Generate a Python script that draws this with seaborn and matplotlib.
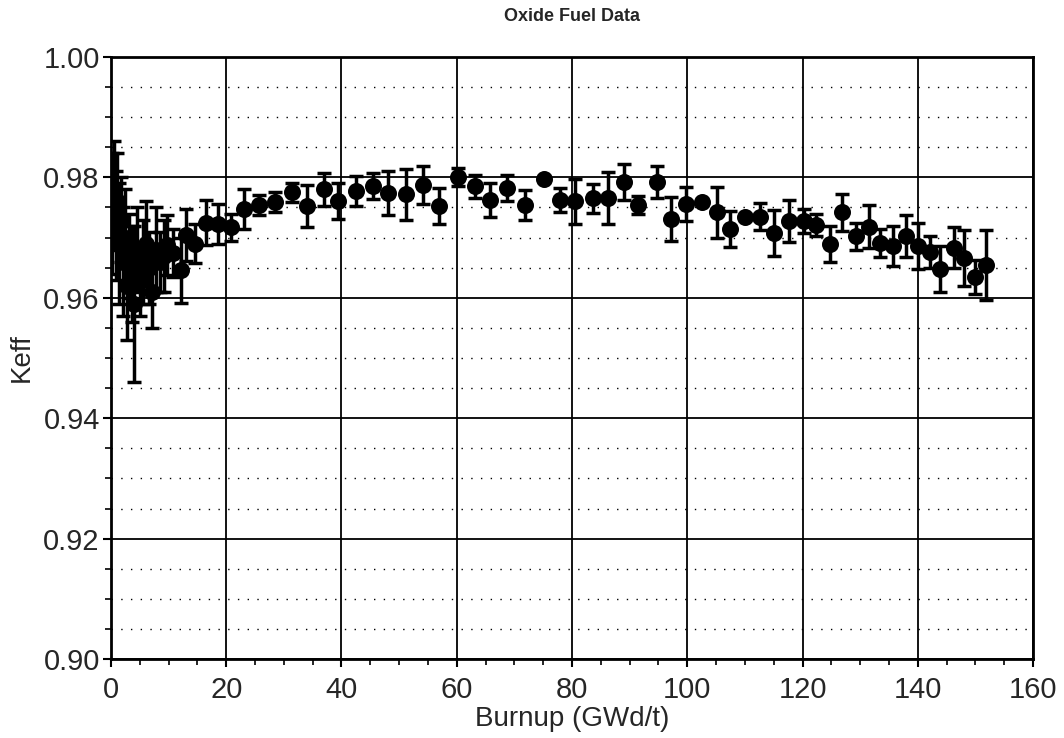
# Oxide fuel data - keff vs burnup
import numpy as np
import pandas as pd
import matplotlib
matplotlib.use('Agg')
import matplotlib.pyplot as plt
from matplotlib.ticker import MultipleLocator, FormatStrFormatter
import seaborn as sns

# Data
burnup = [0.2, 0.5, 0.8, 1.1, 1.4, 1.7, 2.0, 2.4, 2.8, 3.2, 3.6, 4.0, 4.5, 5.0,
          5.5, 6.0, 6.6, 7.2, 7.8, 8.5, 9.2, 9.7, 10.8, 12.1, 13.1, 14.6, 16.5,
          18.6, 20.8, 23.0, 25.6, 28.4, 31.4, 34.0, 36.9, 39.4, 42.5, 45.4,
          48.1, 51.2, 54.2, 57.0, 60.2, 63.2, 65.8, 68.8, 71.8, 75.1, 77.9,
          80.5, 83.6, 86.3, 89.0, 91.5, 94.7, 97.2, 99.7, 102.5, 105.2, 107.5,
          110.1, 112.6, 115.1, 117.6, 120.2, 122.4, 124.7, 126.9, 129.2, 131.5,
          133.5, 135.7, 138.0, 140.1, 142.1, 143.9, 146.2, 148.1, 149.9, 151.8]
keff = [0.974, 0.978, 0.972, 0.976, 0.969, 0.973, 0.966, 0.970, 0.962, 0.967,
        0.964, 0.959, 0.968, 0.963, 0.966, 0.969, 0.965, 0.961, 0.968, 0.966,
        0.967, 0.9688, 0.9674, 0.9646, 0.9704, 0.9690, 0.9725, 0.9723, 0.9717,
        0.9747, 0.9754, 0.9759, 0.9775, 0.9752, 0.9780, 0.9761, 0.9778, 0.9786,
        0.9774, 0.9772, 0.9787, 0.9752, 0.9800, 0.9785, 0.9762, 0.9782, 0.9754,
        0.9797, 0.9762, 0.9760, 0.9765, 0.9766, 0.9793, 0.9754, 0.9792, 0.9731,
        0.9756, 0.9759, 0.9742, 0.9714, 0.9735, 0.9735, 0.9708, 0.9728, 0.9728,
        0.9721, 0.9689, 0.9742, 0.9702, 0.9718, 0.9691, 0.9686, 0.9702, 0.9686,
        0.9676, 0.9648, 0.9683, 0.9666, 0.9635, 0.9655]
keff_err = [0.010, 0.008, 0.009, 0.008, 0.010, 0.007, 0.009, 0.008, 0.009,
            0.007, 0.008, 0.013, 0.007, 0.006, 0.007, 0.007, 0.006, 0.006,
            0.007, 0.005, 0.006, 0.005, 0.004, 0.0054, 0.0043, 0.0033, 0.0037,
            0.0033, 0.0023, 0.0033, 0.0016, 0.0017, 0.0016, 0.0035, 0.0028,
            0.0030, 0.0025, 0.0022, 0.0037, 0.0042, 0.0032, 0.0030, 0.0015,
            0.0019, 0.0028, 0.0022, 0.0025, 0.0, 0.0020, 0.0038, 0.0024,
            0.0043, 0.0030, 0.0015, 0.0027, 0.0036, 0.0028, 0.0, 0.0042,
            0.0030, 0.0, 0.0023, 0.0038, 0.0035, 0.0020, 0.0018, 0.0030,
            0.0031, 0.0023, 0.0036, 0.0023, 0.0034, 0.0035, 0.0038, 0.0027,
            0.0038, 0.0034, 0.0047, 0.0028, 0.0058]

df = pd.DataFrame({'Burnup': burnup, 'Keff': keff, 'err': keff_err})

sns.set_style('white')
plt.rcParams['font.family'] = ['Liberation Sans', 'DejaVu Sans']

fig = plt.figure(figsize=(10.64, 7.38), dpi=100)
ax = fig.add_axes([0.1043, 0.107, 0.8666, 0.8158])

# grid
ax.xaxis.set_major_locator(MultipleLocator(20))
ax.xaxis.set_minor_locator(MultipleLocator(5))
ax.yaxis.set_major_locator(MultipleLocator(0.02))
ax.yaxis.set_minor_locator(MultipleLocator(0.005))
ax.yaxis.set_major_formatter(FormatStrFormatter('%.2f'))
ax.grid(which='major', axis='both', color='black', linewidth=1.3)
ax.grid(which='minor', axis='y', color='black', linewidth=1.0, linestyle=(0, (1, 6)))
ax.set_axisbelow(True)

ax.errorbar(df['Burnup'], df['Keff'], yerr=df['err'], fmt='none', ecolor='black',
            elinewidth=2.5, capsize=5, capthick=2.5, zorder=3)
sns.scatterplot(data=df, x='Burnup', y='Keff', ax=ax, color='black', s=150,
                marker='o', edgecolor='black', linewidth=0, zorder=4)

ax.set_xlim(0, 160)
ax.set_ylim(0.90, 1.00)
for s in ax.spines.values():
    s.set_color('black')
    s.set_linewidth(2)

ax.tick_params(which='major', direction='out', length=6, width=1.5, color='black',
               labelsize=21, left=True, bottom=True)
ax.tick_params(axis='x', which='major', pad=6)
ax.tick_params(axis='y', which='major', pad=2)
ax.tick_params(which='minor', direction='out', length=4, width=1.2, color='black',
               left=True, bottom=True)

ax.set_xlabel('Burnup (GWd/t)', fontsize=20, labelpad=2)
ax.set_ylabel('Keff', fontsize=20, labelpad=6)
ax.set_title('Oxide Fuel Data', fontsize=13, fontweight='bold', pad=26)

plt.savefig('out.png', dpi=100)
